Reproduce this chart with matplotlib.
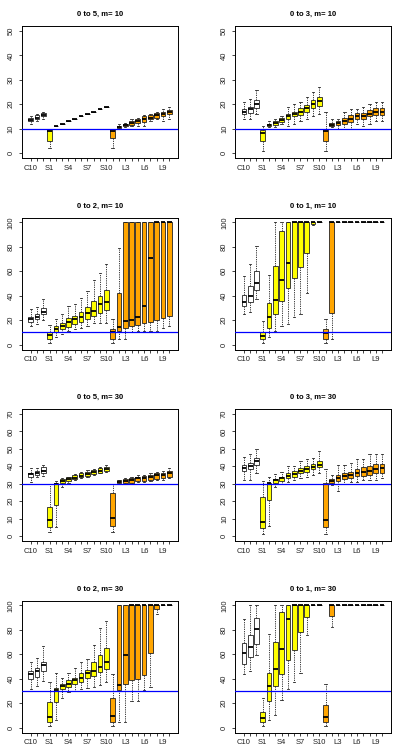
import matplotlib
matplotlib.use('Agg')
import matplotlib.pyplot as plt

plt.rcParams['font.family'] = ['Liberation Sans', 'DejaVu Sans']

# box labels and fills: 3 C, 10 S, 10 L
names = ['C10', 'C20', 'C30'] + ['S%d' % i for i in range(1, 11)] + ['L%d' % i for i in range(1, 11)]
fills = ['white'] * 3 + ['#FFFF00'] * 10 + ['#FFA500'] * 10

titles = ['0 to 5, m= 10', '0 to 3, m= 10', '0 to 2, m= 10', '0 to 1, m= 10',
          '0 to 5, m= 30', '0 to 3, m= 30', '0 to 2, m= 30', '0 to 1, m= 30']
m_level = [10, 10, 10, 10, 30, 30, 30, 30]
y_top = [50, 50, 100, 100, 70, 70, 100, 100]
y_step = [10, 10, 20, 20, 10, 10, 20, 20]

F = (100, 100, 100, 100, 100)

# (whisker low, q1, median, q3, whisker high) per box
p5_m10 = [(12, 13, 13.5, 14.5, 15), (13, 14, 14.5, 15.5, 16), (14, 15, 15.5, 16.5, 17),
          (2, 5, 9, 10, 10), (11, 11, 11, 11, 11), (12, 12, 12, 12, 12), (13, 13, 13, 13, 13),
          (14, 14, 14, 14, 14), (15, 15, 15, 15, 15), (16, 16, 16, 16, 16), (17, 17, 17, 17, 17),
          (18, 18, 18, 18, 18), (19, 19, 19, 19, 19),
          (2, 6, 9, 10, 10), (10, 10.2, 10.7, 11.2, 12), (10.5, 11, 11.5, 12, 12.5),
          (11, 11.7, 12.3, 13, 14), (11, 12.2, 13, 14, 14.5), (11, 12.7, 14, 15, 15.5),
          (13, 13.8, 14.5, 15.5, 16), (14, 14.5, 15.5, 16.5, 17), (13, 15, 16, 17, 18),
          (14, 15.8, 16.8, 17.5, 19)]
p3_m10 = [(14, 16, 17, 18, 21), (14, 16.6, 18, 19, 22), (16, 18.3, 20, 21.7, 26),
          (1, 4.8, 8.4, 9.5, 11), (10.5, 10.9, 11.5, 12, 13), (10.8, 11.5, 12.5, 13, 14),
          (12, 12.9, 13.5, 14.3, 15), (11, 13.9, 15, 16, 19), (12, 15, 16, 17, 20),
          (13, 15.6, 17, 18.3, 21), (14, 17, 18.5, 19.7, 23), (15, 18.3, 20, 21.7, 25),
          (16, 19.3, 21.5, 22.8, 27),
          (1, 4.8, 9, 9.8, 17), (10.5, 10.9, 11.7, 12.5, 14), (10, 11.5, 12.3, 13, 14),
          (10, 12, 13, 14.3, 17), (10, 12.9, 14, 15.6, 18), (12, 13.9, 15, 16.3, 18),
          (11, 13.9, 15, 16.6, 19), (12, 15, 16, 17.7, 20), (13, 15.6, 17, 18.3, 21),
          (13, 15.6, 17, 18.3, 21)]
p2_m10 = [(15.6, 18.9, 21, 22.4, 29), (17, 21, 23, 25, 31), (20, 25, 27, 29.6, 37),
          (1.6, 4.9, 8, 10.2, 16), (6, 10.2, 13, 15, 21), (9, 12.4, 15.6, 17.8, 25),
          (11, 14.3, 18.3, 21.6, 32), (13, 17, 21, 23.7, 33), (14, 18.9, 22.4, 27, 38.5),
          (15.6, 21, 25.6, 30.5, 44), (18, 23.7, 27.8, 35.8, 53), (18, 25.9, 33, 39.4, 59),
          (18, 28.6, 35, 44.7, 66),
          (1.6, 4.9, 10.2, 12.4, 21), (5, 10.8, 14.3, 42.6, 79), (5, 13.5, 19, 100, 100),
          (10, 15, 20.5, 100, 100), (11, 16, 22.4, 100, 100), (11, 17.8, 32, 100, 100),
          (11, 18.9, 71, 100, 100), (11, 20.5, 100, 100, 100), (14, 21.6, 100, 100, 100),
          (15.6, 23.7, 100, 100, 100)]
p1_m10 = [(25, 31.3, 35, 40.4, 56), (27, 34.5, 40, 48, 66), (37, 44.7, 50.7, 60.6, 81),
          (1.6, 4.3, 7, 10.2, 19), (6, 13.5, 23, 34, 57), (11, 25, 36.7, 64, 100),
          (15, 36, 53, 93, 100), (17, 46.6, 67, 100, 100), (23, 54.7, 100, 100, 100),
          (25, 63.6, 100, 100, 100), (42.6, 75, 100, 100, 100), (98, 99, 100, 100, 100), F,
          (1.6, 4.9, 9.7, 13, 21), (4.9, 25.9, 100, 100, 100), F, F, F, F, F, F, F, F]
p5_m30 = [(31, 34, 35.5, 36.4, 39), (33.6, 35.1, 36.2, 37.4, 39), (34.5, 36.2, 37.4, 39.3, 41),
          (2.3, 5.1, 9.3, 16.9, 30), (5.1, 18, 30, 30.5, 31.5), (28.3, 30.2, 31.5, 32.6, 33.2),
          (30.5, 31.3, 32.5, 33.6, 34), (32, 32.6, 33.5, 35, 35.5), (33, 33.6, 34.5, 35.9, 36.5),
          (34, 34.5, 35.5, 37, 38), (35, 35.5, 36.5, 38, 38.5), (36, 36.4, 37.5, 39, 39.5),
          (37, 37.4, 38.5, 39.7, 40.5),
          (2.3, 6, 10.4, 24.5, 30), (30, 30.2, 31, 32, 32), (30, 30.5, 31.5, 32.6, 33),
          (30, 30.7, 32, 33.2, 34), (31, 31.3, 33, 34, 35), (31, 31.7, 33, 34.3, 35),
          (31.5, 32, 34, 35, 36), (32, 32.6, 35, 35.9, 37), (32, 33.2, 35, 36.2, 37.5),
          (33, 34, 36, 37.4, 39)]
p3_m30 = [(32, 37.4, 38.9, 40.6, 45.4), (32, 38.3, 40.2, 41.6, 47), (35.9, 40.8, 43, 45, 50),
          (1, 4.7, 8, 22.6, 31.3), (6, 20.7, 30.2, 30.7, 34), (28, 30.7, 32, 32.6, 35.5),
          (30, 31.3, 33, 34, 37), (31, 33.2, 34.5, 35.9, 40), (32, 34, 35.5, 37.4, 40),
          (33, 35.9, 37.5, 38.9, 43), (34, 37, 38.5, 40.2, 44), (35, 38.3, 39.5, 41.2, 45),
          (36, 39.3, 41, 43, 49),
          (1, 5.1, 9.5, 30.2, 38.3), (29, 30.2, 31.5, 32.6, 35), (26, 31.3, 33, 35, 41),
          (30, 32.6, 34.5, 36.4, 41), (31, 33.2, 35, 37, 42), (31, 34.5, 36, 38.3, 44),
          (32, 34.5, 37, 39.3, 44), (32, 35, 37.5, 40.2, 47), (32, 35.9, 38.5, 41.2, 47),
          (33, 36.4, 39, 41.2, 47)]
p2_m30 = [(32, 39.7, 43.5, 46.2, 53.8), (34, 41.6, 46.2, 48.4, 57), (38, 46.2, 51, 53.8, 66.6),
          (1, 4.9, 9, 20.6, 37), (6.2, 21.2, 30.7, 32.6, 44.3), (24.5, 31.5, 34.2, 36, 40.8),
          (29.3, 33.4, 36, 38.9, 44.3), (30, 35.3, 38.9, 40.8, 48.4), (31.5, 37, 40.2, 44.3, 53.3),
          (32.6, 40.2, 44.3, 47, 56), (33.4, 42.4, 46.2, 53.3, 68), (34.8, 45.7, 49.7, 59.8, 81.5),
          (37.5, 47.8, 53.8, 65, 87),
          (1, 4.9, 9.8, 23.9, 43.5), (4.9, 30.7, 34.8, 100, 100), (4.9, 35.3, 59.8, 100, 100),
          (21.7, 38.9, 100, 100, 100), (21.7, 39.7, 100, 100, 100), (30.7, 43, 100, 100, 100),
          (33.4, 61.4, 100, 100, 100), (93, 97.3, 100, 100, 100), F, F]
p1_m30 = [(43.5, 52.4, 61.4, 69.6, 89), (46.2, 57.9, 66, 75.5, 100), (59.2, 68.8, 80.4, 89.7, 100),
          (1, 4.3, 8, 12.5, 24.5), (6.2, 21.7, 34.2, 45, 77), (10.3, 34.2, 47.8, 70, 100),
          (22.6, 43.5, 64, 94.6, 100), (32, 55, 88.6, 100, 100), (37.5, 63.3, 100, 100, 100),
          (45, 78.3, 100, 100, 100), (75.5, 90.5, 100, 100, 100), F, F,
          (1, 4.9, 9, 18.5, 36), (82, 91.3, 100, 100, 100), F, F, F, F, F, F, F, F]

panels = [p5_m10, p3_m10, p2_m10, p1_m10, p5_m30, p3_m30, p2_m30, p1_m30]

W, H = 399, 748
fig = plt.figure(figsize=(W / 100, H / 100), dpi=100)

col_x = [21.7, 235.0]
col_w = [156.6, 156.0]
row_top = [26, 217.5, 409, 600.5]
row_h = 132

positions = list(range(1, len(names) + 1))
shown = [n if i % 3 == 0 else '' for i, n in enumerate(names)]

for k, data in enumerate(panels):
    r, c = divmod(k, 2)
    ax = fig.add_axes([col_x[c] / W, 1 - (row_top[r] + row_h) / H, col_w[c] / W, row_h / H])
    stats = [dict(whislo=a, q1=b, med=m, q3=d, whishi=e, label=n)
             for (a, b, m, d, e), n in zip(data, names)]
    bp = ax.bxp(stats, positions=positions, widths=0.75, capwidths=0.36,
                patch_artist=True, showfliers=False,
                boxprops=dict(edgecolor='#222222', linewidth=0.6),
                medianprops=dict(color='black', linewidth=1.3),
                whiskerprops=dict(color='#222222', linestyle=(0, (1.5, 1.2)), linewidth=0.6),
                capprops=dict(color='#222222', linewidth=0.6))
    for patch, fc in zip(bp['boxes'], fills):
        patch.set_facecolor(fc)
    ax.axhline(m_level[k], color='#0000FF', linewidth=0.9, zorder=5)

    top = y_top[k]
    ax.set_xlim(-0.42, 24.42)
    ax.set_ylim(-0.04 * top, 1.04 * top)
    ax.set_xticks(positions)
    ax.set_xticklabels(shown)
    ax.set_yticks(range(0, top + 1, y_step[k]))
    ax.tick_params(length=2.5, width=0.6, pad=2.5, labelsize=5.5, colors='#222222')
    ax.tick_params(axis='y', labelrotation=90)
    for lab in ax.get_yticklabels():
        lab.set_verticalalignment('center')
    for s in ax.spines.values():
        s.set_linewidth(0.7)
    ax.set_title(titles[k], fontsize=5.5, fontweight='bold', pad=7)

fig.savefig('out.png', dpi=100)
